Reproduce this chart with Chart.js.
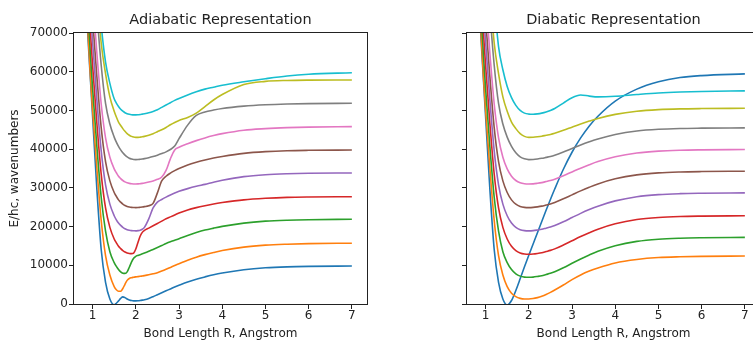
<!DOCTYPE html>
<html>
<head>
<meta charset="utf-8">
<script src="https://cdn.jsdelivr.net/npm/chart.js@4.4.1/dist/chart.umd.min.js"></script>
<style>
  html, body { margin: 0; padding: 0; background: #fff; overflow: hidden; }
  #wrap { position: relative; width: 753px; height: 343px; overflow: hidden; }
  #adia { position: absolute; left: 0; top: 0; }
  #dia { position: absolute; left: 380px; top: 0; }
</style>
</head>
<body>
<div id="wrap">
  <canvas id="adia" width="380" height="343"></canvas>
  <canvas id="dia" width="400" height="343"></canvas>
</div>
<script>
// bond length grids (Angstrom)
const R_ADIA = [0.85, 0.9, 0.95, 1.0, 1.1, 1.2, 1.3, 1.4, 1.5, 1.55, 1.6, 1.65, 1.7, 1.75, 1.8, 1.85, 1.9, 1.95, 2.0, 2.05,
  2.1, 2.15, 2.2, 2.3, 2.4, 2.5, 2.6, 2.7, 2.8, 2.9, 3.0, 3.2, 3.4, 3.6, 3.8, 4.0, 4.5, 5.0, 5.5, 6.0, 7.0];
const R_DIA = [0.85, 0.9, 0.95, 1.0, 1.1, 1.2, 1.3, 1.4, 1.5, 1.6, 1.7, 1.8, 1.9, 2.0, 2.1, 2.2, 2.3, 2.4, 2.5, 2.6,
  2.8, 3.0, 3.2, 3.4, 3.6, 4.0, 4.5, 5.0, 5.5, 6.0, 7.0];

const XTICKS = [1, 2, 3, 4, 5, 6, 7];
const YTICKS = [0, 10000, 20000, 30000, 40000, 50000, 60000, 70000];

// adiabatic curves, E/hc in cm-1 (left panel)
const adia0 = [78000, 67500, 58000, 48500, 29500, 14000, 5600, 1300, -200, 200, 800, 1450, 1850, 1650, 1300, 1050, 880, 800, 800, 830,
  900, 1000, 1120, 1450, 1900, 2400, 2900, 3400, 3900, 4400, 4850, 5700, 6400, 7000, 7550, 8000, 8850, 9350, 9600, 9720, 9820];
const adia1 = [80500, 68900, 58700, 50100, 35000, 21500, 12500, 7500, 4500, 3700, 3300, 3300, 4000, 5100, 6100, 6600, 6800, 6900, 7000, 7070,
  7150, 7240, 7330, 7540, 7800, 8100, 8500, 8950, 9450, 9950, 10400, 11300, 12100, 12750, 13300, 13800, 14700, 15200, 15450, 15600, 15700];
const adia2 = [86100, 74500, 64300, 55700, 40600, 27500, 18800, 13500, 10700, 9700, 8900, 8300, 7950, 7900, 8300, 9500, 10800, 11800, 12300, 12550,
  12750, 12950, 13150, 13600, 14100, 14600, 15100, 15600, 16050, 16450, 16850, 17700, 18450, 19100, 19600, 20050, 20900, 21400, 21650, 21780, 21880];
const adia3 = [92050, 80450, 70250, 61650, 46550, 33500, 24800, 19800, 16800, 15800, 14900, 14300, 13800, 13450, 13200, 13050, 13000, 13150, 14200, 15900,
  17500, 18500, 19000, 19600, 20200, 20800, 21400, 22000, 22500, 23000, 23500, 24300, 24900, 25400, 25850, 26200, 26900, 27300, 27550, 27650, 27720];
const adia4 = [98100, 86500, 76300, 67700, 52600, 39500, 30800, 25800, 22800, 21750, 20900, 20300, 19800, 19450, 19200, 19050, 18950, 18920, 18900, 18950,
  19050, 19300, 19800, 22000, 24800, 26300, 27000, 27600, 28150, 28650, 29100, 29800, 30400, 30900, 31450, 31950, 32900, 33400, 33650, 33780, 33840];
const adia5 = [104100, 92500, 82300, 73700, 58600, 45500, 36800, 31800, 28800, 27800, 26900, 26300, 25800, 25450, 25200, 25050, 24950, 24920, 24900, 24920,
  24980, 25050, 25150, 25400, 26000, 28700, 31800, 33000, 33800, 34450, 35000, 35900, 36600, 37200, 37700, 38100, 38900, 39350, 39600, 39700, 39780];
const adia6 = [110200, 98600, 88400, 79800, 64700, 51600, 42900, 37900, 34900, 33900, 33000, 32400, 31900, 31550, 31300, 31150, 31050, 31010, 31000, 31020,
  31080, 31150, 31250, 31500, 31800, 32200, 32800, 34500, 37500, 39800, 40500, 41400, 42200, 42900, 43500, 44000, 44900, 45300, 45550, 45700, 45810];
const adia7 = [124500, 111700, 100500, 91100, 75300, 61600, 51800, 46500, 43100, 41800, 40700, 39800, 39040, 38450, 37980, 37650, 37450, 37320, 37300, 37320,
  37380, 37450, 37550, 37800, 38100, 38450, 38850, 39300, 39900, 40800, 42700, 46200, 48700, 49600, 50100, 50500, 51100, 51450, 51650, 51760, 51840];
const adia8 = [130250, 117450, 106250, 96850, 81050, 67350, 59500, 53500, 49800, 48300, 47000, 46100, 45300, 44600, 44000, 43600, 43300, 43120, 43050, 43050,
  43100, 43180, 43300, 43600, 44000, 44500, 45000, 45600, 46300, 46900, 47400, 48200, 49300, 51000, 52700, 54100, 56700, 57500, 57750, 57830, 57860];
const adia9 = [138000, 124000, 112000, 102000, 86000, 72000, 62500, 57000, 53000, 51900, 51000, 50300, 49800, 49400, 49150, 49000, 48900, 48850, 48850, 48880,
  48950, 49050, 49150, 49400, 49750, 50200, 50800, 51400, 52000, 52600, 53100, 54000, 54800, 55500, 56000, 56500, 57400, 58200, 58900, 59350, 59750];

// diabatic curves (right panel)
const dia0 = [78000, 67500, 58000, 48500, 29500, 14000, 5600, 1300, -250, 900, 3500, 6500, 9600, 12600, 15500, 18400, 21300, 24200, 27000, 29700,
  34800, 39200, 42900, 46000, 48500, 52400, 55500, 57400, 58500, 59000, 59450];
const dia1 = [80500, 68900, 58700, 50100, 35000, 21500, 12500, 7500, 4500, 2800, 1900, 1450, 1300, 1300, 1400, 1650, 2000, 2450, 3000, 3600,
  4900, 6300, 7500, 8500, 9300, 10600, 11500, 12000, 12200, 12300, 12400];
const dia2 = [86100, 74500, 64300, 55700, 40600, 27500, 18800, 13500, 10700, 8900, 7800, 7200, 6950, 6900, 6950, 7110, 7310, 7620, 7930, 8340,
  9370, 10510, 11640, 12670, 13600, 15040, 16170, 16740, 16990, 17100, 17200];
const dia3 = [92050, 80450, 70250, 61650, 46550, 33500, 24800, 19800, 16800, 14900, 13800, 13200, 12920, 12850, 12900, 13050, 13250, 13550, 13850, 14240,
  15240, 16330, 17430, 18420, 19320, 20710, 21810, 22350, 22600, 22700, 22800];
const dia4 = [98100, 86500, 76300, 67700, 52600, 39500, 30800, 25800, 22800, 20900, 19800, 19200, 18950, 18900, 18950, 19100, 19290, 19590, 19880, 20270,
  21250, 22330, 23410, 24390, 25270, 26640, 27720, 28260, 28500, 28600, 28700];
const dia5 = [104100, 92500, 82300, 73700, 58600, 45500, 36800, 31800, 28800, 26900, 25800, 25200, 24950, 24900, 24950, 25090, 25280, 25560, 25840, 26220,
  27160, 28190, 29220, 30160, 31010, 32330, 33360, 33880, 34110, 34210, 34300];
const dia6 = [110200, 98600, 88400, 79800, 64700, 51600, 42900, 37900, 34900, 33000, 31900, 31300, 31050, 31000, 31040, 31180, 31360, 31620, 31890, 32250,
  33140, 34120, 35090, 35980, 36790, 38030, 39010, 39500, 39720, 39810, 39900];
const dia7 = [124500, 111700, 100500, 91100, 75300, 61600, 51800, 46500, 43100, 40700, 39040, 37980, 37500, 37300, 37340, 37460, 37630, 37870, 38120, 38450,
  39270, 40170, 41070, 41890, 42630, 43780, 44680, 45130, 45340, 45420, 45500];
const dia8 = [130250, 117450, 106250, 96850, 81050, 67350, 59500, 53500, 49800, 47000, 45300, 44000, 43300, 43050, 43090, 43200, 43350, 43580, 43800, 44100,
  44850, 45680, 46500, 47250, 47930, 48980, 49800, 50210, 50400, 50480, 50550];
const dia9 = [149000, 133000, 121000, 110000, 93000, 78500, 66500, 60500, 56200, 53300, 51300, 50000, 49300, 49050, 49000, 49100, 49300, 49600, 50000, 50500,
  51900, 53300, 54000, 53700, 53500, 53650, 54100, 54500, 54750, 54900, 55050];

const COLORS = ["#1f77b4", "#ff7f0e", "#2ca02c", "#d62728", "#9467bd",
  "#8c564b", "#e377c2", "#7f7f7f", "#bcbd22", "#17becf"];

Chart.defaults.font.family = "DejaVu Sans";
Chart.defaults.color = "#222";

// matplotlib-like box around the axes
const framePlugin = {
  id: "frame",
  afterDraw(chart) {
    const a = chart.chartArea;
    const ctx = chart.ctx;
    ctx.save();
    ctx.strokeStyle = "#222";
    ctx.lineWidth = 1;
    ctx.strokeRect(Math.round(a.left) - 0.5, Math.round(a.top) - 0.5,
      Math.round(a.right - a.left) + 1, Math.round(a.bottom - a.top) + 1);
    ctx.restore();
  },
};

function makeChart(id, xs, curves, title, yWidth, rightPad, showY) {
  const datasets = curves.map((ys, i) => ({
    data: xs.map((x, j) => ({ x: x, y: ys[j] })),
    borderColor: COLORS[i],
    borderWidth: 1.6,
    pointRadius: 0,
    fill: false,
    cubicInterpolationMode: "monotone",
    order: curves.length - i,
    clip: 0,
  }));

  return new Chart(document.getElementById(id), {
    type: "line",
    data: { datasets: datasets },
    options: {
      responsive: false,
      animation: false,
      devicePixelRatio: 1,
      layout: { padding: { left: 0, right: rightPad, top: 0, bottom: 0 } },
      plugins: {
        legend: { display: false },
        tooltip: { enabled: false },
        title: {
          display: true,
          text: title,
          fullSize: false,
          color: "#222",
          font: { size: 14.5, weight: "normal" },
          padding: { top: 12, bottom: 3.6 },
        },
      },
      scales: {
        x: {
          type: "linear",
          min: 0.57,
          max: 7.35,
          afterBuildTicks: (s) => { s.ticks = XTICKS.map((v) => ({ value: v })); },
          afterFit: (s) => { s.height = 39; },
          grid: { drawOnChartArea: false, drawTicks: true, tickLength: 5, color: "#222", lineWidth: 1 },
          border: { display: false },
          ticks: { color: "#222", font: { size: 12 }, padding: 0, maxRotation: 0, autoSkip: false,
            callback: (v) => String(v) },
          title: { display: true, text: "Bond Length R, Angstrom", color: "#222",
            font: { size: 12 }, padding: 2 },
        },
        y: {
          min: 0,
          max: 70000,
          afterBuildTicks: (s) => { s.ticks = YTICKS.map((v) => ({ value: v })); },
          afterFit: (s) => { s.width = yWidth; },
          grid: { drawOnChartArea: false, drawTicks: true, tickLength: 5, color: "#222", lineWidth: 1 },
          border: { display: false },
          ticks: { display: showY, color: "#222", font: { size: 12 }, padding: 1,
            callback: (v) => String(v) },
          title: { display: showY, text: "E/hc, wavenumbers", color: "#222",
            font: { size: 12 }, padding: 8 },
        },
      },
    },
    plugins: [framePlugin],
  });
}

makeChart("adia", R_ADIA,
  [adia0, adia1, adia2, adia3, adia4, adia5, adia6, adia7, adia8, adia9],
  "Adiabatic Representation", 74, 13, true);
makeChart("dia", R_DIA,
  [dia0, dia1, dia2, dia3, dia4, dia5, dia6, dia7, dia8, dia9],
  "Diabatic Representation", 87, 20, false);
</script>
</body>
</html>
